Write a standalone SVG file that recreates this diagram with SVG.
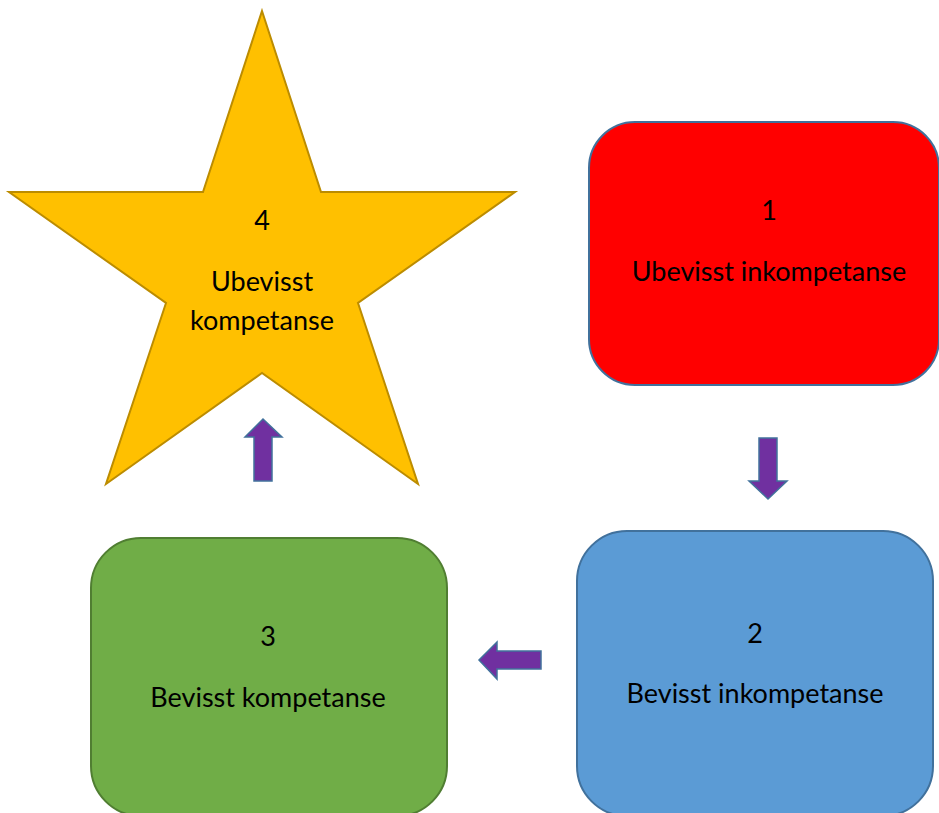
<svg xmlns="http://www.w3.org/2000/svg" width="939" height="813" viewBox="0 0 939 813">
  <style>
    .lbl { font-family: Lato, "Open Sans", "Liberation Sans", sans-serif; font-size: 27px; fill: #000; text-anchor: middle; }
    .arrow { fill: #7030A0; stroke: #41719C; stroke-width: 1.5; stroke-linejoin: miter; }
  </style>
  <rect width="939" height="813" fill="#FFFFFF"/>

  <!-- Stage 4: five-pointed star -->
  <g id="node4">
    <polygon points="262,11 321,192 515,192 358,303 418,484 262,373 106,484 166,303 9,192 203,192"
             fill="#FFC000" stroke="#BC8C00" stroke-width="2" stroke-linejoin="miter"/>
    <text class="lbl" x="262" y="230">4</text>
    <text class="lbl" x="262" y="291">Ubevisst</text>
    <text class="lbl" x="262" y="330">kompetanse</text>
  </g>

  <!-- Stage 1 -->
  <g id="node1">
    <rect x="589" y="122" width="350" height="263" rx="46" ry="46" fill="#FF0000" stroke="#41719C" stroke-width="2"/>
    <text class="lbl" x="769" y="220">1</text>
    <text class="lbl" x="769" y="281">Ubevisst inkompetanse</text>
  </g>

  <!-- Stage 2 -->
  <g id="node2">
    <rect x="577" y="531" width="356" height="285" rx="50" ry="50" fill="#5B9BD5" stroke="#41719C" stroke-width="2"/>
    <text class="lbl" x="755" y="643">2</text>
    <text class="lbl" x="755" y="703">Bevisst inkompetanse</text>
  </g>

  <!-- Stage 3 -->
  <g id="node3">
    <rect x="91" y="538" width="356" height="278" rx="50" ry="50" fill="#70AD47" stroke="#507E32" stroke-width="2"/>
    <text class="lbl" x="268" y="646">3</text>
    <text class="lbl" x="268" y="707">Bevisst kompetanse</text>
  </g>

  <!-- Block arrows between stages -->
  <g id="connectors">
    <!-- 1 to 2 -->
    <polygon class="arrow" points="759,438 777,438 777,481 787,481 768,499 749,481 759,481"/>
    <!-- 2 to 3 -->
    <polygon class="arrow" points="541,651 541,669 497,669 497,679 479,660 497,642 497,651"/>
    <!-- 3 to 4 -->
    <polygon class="arrow" points="254,481 272,481 272,437 282,437 263,419 245,437 254,437"/>
  </g>
</svg>
